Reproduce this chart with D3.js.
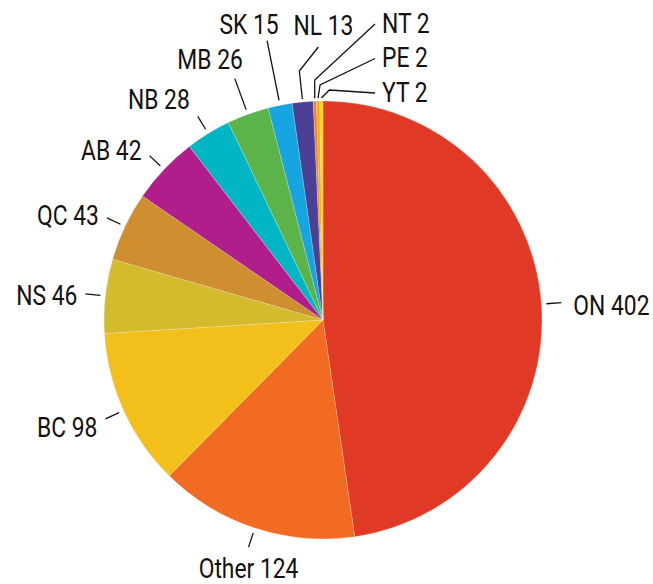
<!DOCTYPE html>
<html>
<head>
<meta charset="utf-8">
<script src="https://cdn.jsdelivr.net/npm/d3@7"></script>
<style>
  body { margin: 0; background: #fff; }
  svg text { font-family: "Roboto", "Liberation Sans", sans-serif; font-size: 27.5px; fill: #111; }
  .leader { fill: none; stroke: #111; stroke-width: 1.3; }
</style>
</head>
<body>
<svg id="chart" width="653" height="584"></svg>
<script>
'use strict';

// Data, in drawing order (clockwise from 12 o'clock).
const provinces = ['ON', 'Other', 'BC', 'NS', 'QC', 'AB', 'NB', 'MB', 'SK', 'NL', 'NT', 'PE', 'YT'];
const counts = [402, 124, 98, 46, 43, 42, 28, 26, 15, 13, 2, 2, 2];
const sliceColors = ['#e03a27', '#f26b22', '#f2bf1b', '#d4bb2e', '#cf8f30', '#b11e8c',
  '#00b6c4', '#5cb349', '#16a5e1', '#4c3f96', '#f0822a', '#f6a81f', '#fdd20f'];

const data = provinces.map((p, i) => ({ label: p, value: counts[i], color: sliceColors[i] }));

const svg = d3.select('#chart');
const cx = 323, cy = 320, R = 219;
const TAU = Math.PI * 2;
// No condensed face is installed, so squeeze the text horizontally.
const squeeze = 0.83;

const pie = d3.pie().sort(null).value(d => d.value).startAngle(0).endAngle(TAU);
const arc = d3.arc().innerRadius(0).outerRadius(R);
const arcs = pie(data);

const g = svg.append('g').attr('transform', `translate(${cx},${cy})`);

g.append('g').attr('class', 'slices')
  .selectAll('path')
  .data(arcs)
  .join('path')
    .attr('d', arc)
    .attr('fill', d => d.data.color)
    .attr('stroke', '#fff')
    .attr('stroke-opacity', 0.35)
    .attr('stroke-width', 0.6);

// Label layout. Most labels sit on a short radial leader; the thin slices
// near 12 o'clock get longer leaders or elbows so the texts don't collide.
const deg = a => a * 180 / Math.PI;
let stackIndex = 0;

function layout(d) {
  const a = (d.startAngle + d.endAngle) / 2;
  const sx = Math.sin(a), sy = -Math.cos(a);
  const at = k => [sx * (R + k), sy * (R + k)];
  const angle = deg(a);
  const text = d.data.label + ' ' + d.data.value;

  if (angle < 330) {
    const p0 = at(5), p1 = at(20);
    if (Math.abs(sx) < 0.4) {
      return { points: [p0, p1], x: p1[0], y: p1[1] + Math.sign(sy) * 21, anchor: 'middle', text };
    }
    // lift labels a bit more as they approach the top
    const lift = Math.max(0, -sy - 0.7) * 60;
    return {
      points: [p0, p1],
      x: p1[0] + Math.sign(sx) * (sx > 0 ? 12 : 8),
      y: p1[1] + sy * 13 + 3 - lift,
      anchor: sx > 0 ? 'start' : 'end',
      text
    };
  }
  if (angle < 345) {
    const p0 = at(5), p1 = at(38);
    return { points: [p0, p1], x: p1[0] + 8, y: p1[1] - 20, anchor: 'end', text };
  }
  if (angle < 352) {
    const p0 = at(5), p1 = at(66);
    return { points: [p0, p1], x: p1[0] - 18, y: p1[1] - 16, anchor: 'middle', text };
  }
  if (angle < 356) {
    const p0 = at(3);
    const knee = [p0[0] - 3, -R - 30];
    const p1 = [knee[0] + 19, -R - 54];
    return { points: [p0, knee, p1], x: p1[0] + 5, y: -R - 76, anchor: 'middle', text };
  }
  // Right-hand stack for the tiniest slices.
  const k = stackIndex++;
  const p0 = at(3);
  const knee = [p0[0] + k * k * 2, -R - 21 + k * 5];
  const y = -R - 78 + k * 34.5;
  return { points: [p0, knee, [52, y + 1]], x: 59, y, anchor: 'start', text };
}

const labels = arcs.map(layout);

const lab = g.append('g').attr('class', 'labels');

lab.selectAll('polyline')
  .data(labels)
  .join('polyline')
    .attr('class', 'leader')
    .attr('points', d => d.points.map(p => p.join(',')).join(' '));

lab.selectAll('text')
  .data(labels)
  .join('text')
    .attr('transform', d => `translate(${d.x},${d.y}) scale(${squeeze},1)`)
    .attr('dy', '0.36em')
    .attr('text-anchor', d => d.anchor)
    .text(d => d.text);
</script>
</body>
</html>
